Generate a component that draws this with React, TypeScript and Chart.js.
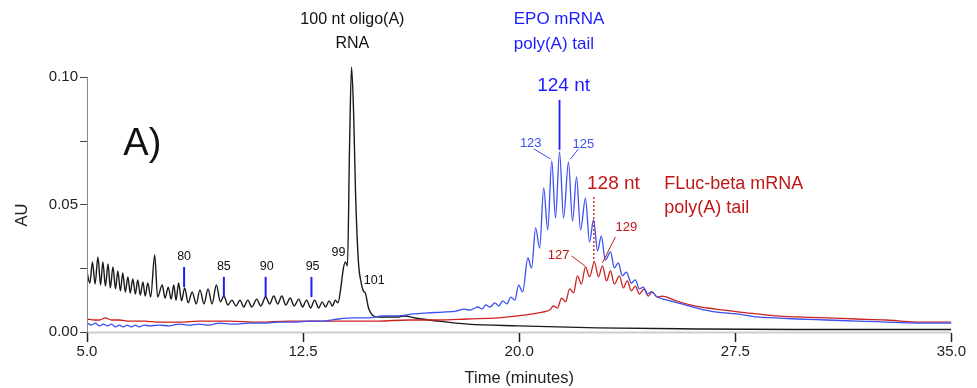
import React, { useEffect, useRef } from 'react';
import { Chart, registerables } from 'chart.js';

Chart.register(...registerables);

// ---------- data (time in minutes, absorbance in AU) ----------
const blackTime = [5.00,5.10,5.19,5.28,5.38,5.47,5.55,5.64,5.73,5.81,5.90,5.99,6.07,6.16,6.24,6.33,6.42,6.50,6.59,6.68,6.76,6.85,6.94,7.02,7.11,7.21,7.35,7.45,7.61,7.71,7.82,7.92,8.01,8.09,8.18,8.28,8.39,8.51,8.65,8.79,8.92,9.06,9.20,9.34,9.49,9.63,9.75,9.89,10.03,10.17,10.31,10.44,10.58,10.72,10.89,11.03,11.20,11.34,11.48,11.62,11.76,11.90,12.05,12.19,12.35,12.48,12.62,12.76,12.90,13.04,13.16,13.28,13.40,13.52,13.62,13.71,13.80,13.90,13.97,14.04,14.11,14.18,14.25,14.32,14.42,14.51,14.59,14.66,14.77,14.90,15.11,15.46,15.80,16.04,16.39,17.18,18.22,19.95,22.71,26.17,29.63,35.00];
const blackAU = [0.0235,0.0192,0.0275,0.0188,0.0294,0.0184,0.0275,0.0180,0.0267,0.0173,0.0255,0.0169,0.0239,0.0161,0.0231,0.0157,0.0216,0.0153,0.0208,0.0149,0.0204,0.0145,0.0196,0.0141,0.0192,0.0137,0.0302,0.0137,0.0184,0.0133,0.0176,0.0129,0.0184,0.0125,0.0192,0.0122,0.0173,0.0114,0.0157,0.0110,0.0165,0.0110,0.0169,0.0110,0.0184,0.0118,0.0141,0.0106,0.0125,0.0102,0.0125,0.0098,0.0125,0.0098,0.0129,0.0102,0.0137,0.0110,0.0141,0.0110,0.0141,0.0106,0.0133,0.0102,0.0129,0.0098,0.0125,0.0094,0.0125,0.0094,0.0118,0.0098,0.0122,0.0102,0.0125,0.0114,0.0165,0.0251,0.0275,0.0259,0.0714,0.1039,0.0871,0.0545,0.0275,0.0196,0.0161,0.0153,0.0094,0.0067,0.0059,0.0059,0.0059,0.0063,0.0055,0.0043,0.0031,0.0024,0.0016,0.0012,0.0010,0.0010];

const blueTime = [5.00,5.16,5.29,5.43,5.57,5.71,5.85,5.99,6.12,6.26,6.40,6.54,6.68,6.81,6.99,7.16,7.51,7.85,8.20,8.54,8.89,9.23,9.58,10.10,10.62,11.14,11.65,12.17,12.69,13.21,13.73,14.25,14.76,15.28,15.80,16.32,16.84,17.36,17.81,18.08,18.29,18.57,18.71,18.84,18.98,19.16,19.29,19.43,19.57,19.71,19.85,19.98,20.12,20.30,20.43,20.57,20.71,20.85,20.99,21.13,21.26,21.40,21.54,21.71,21.85,21.99,22.13,22.30,22.44,22.58,22.72,22.85,22.99,23.17,23.30,23.44,23.58,23.72,23.89,24.03,24.17,24.31,24.44,24.58,24.79,25.14,25.65,26.17,26.86,27.55,28.25,28.94,29.63,30.67,31.70,32.74,33.78,35.00];
const blueAU = [0.0035,0.0027,0.0035,0.0024,0.0031,0.0024,0.0031,0.0020,0.0027,0.0020,0.0027,0.0020,0.0027,0.0020,0.0027,0.0024,0.0027,0.0024,0.0031,0.0027,0.0031,0.0027,0.0035,0.0031,0.0035,0.0035,0.0039,0.0039,0.0043,0.0043,0.0051,0.0055,0.0055,0.0063,0.0063,0.0071,0.0075,0.0078,0.0082,0.0090,0.0086,0.0098,0.0090,0.0106,0.0098,0.0114,0.0102,0.0122,0.0110,0.0137,0.0125,0.0184,0.0157,0.0290,0.0251,0.0408,0.0329,0.0565,0.0400,0.0671,0.0447,0.0706,0.0447,0.0667,0.0435,0.0608,0.0400,0.0525,0.0353,0.0439,0.0318,0.0376,0.0282,0.0314,0.0251,0.0271,0.0220,0.0235,0.0192,0.0204,0.0169,0.0176,0.0149,0.0157,0.0137,0.0125,0.0110,0.0094,0.0078,0.0071,0.0059,0.0055,0.0051,0.0047,0.0043,0.0039,0.0035,0.0035];

const redTime = [5.00,5.26,5.43,5.64,5.85,6.12,6.47,6.99,7.51,8.20,8.89,9.93,10.96,12.00,13.04,14.07,15.11,16.15,17.18,18.22,19.26,19.95,20.47,20.81,21.06,21.19,21.33,21.47,21.61,21.75,21.89,22.02,22.16,22.30,22.44,22.61,22.75,22.89,23.03,23.17,23.30,23.48,23.61,23.75,23.89,24.03,24.17,24.34,24.48,24.62,24.79,24.96,25.38,25.93,26.52,27.11,27.66,28.25,28.94,29.63,30.67,31.70,32.74,33.78,35.00];
const redAU = [0.0051,0.0047,0.0047,0.0055,0.0047,0.0047,0.0043,0.0043,0.0039,0.0039,0.0043,0.0043,0.0039,0.0043,0.0043,0.0043,0.0043,0.0047,0.0047,0.0051,0.0055,0.0063,0.0071,0.0078,0.0086,0.0102,0.0094,0.0133,0.0118,0.0169,0.0153,0.0220,0.0188,0.0255,0.0216,0.0275,0.0216,0.0259,0.0200,0.0239,0.0188,0.0220,0.0173,0.0200,0.0161,0.0180,0.0149,0.0169,0.0141,0.0157,0.0137,0.0141,0.0125,0.0106,0.0094,0.0086,0.0078,0.0071,0.0063,0.0059,0.0055,0.0051,0.0047,0.0039,0.0039];

const xTickValues = [5, 12.5, 20, 27.5, 35];
const yTickValues = [0, 0.025, 0.05, 0.075, 0.1];
const yLabelledValues = [0, 0.05, 0.1];

// ---------- annotation content (anchored in data units) ----------
const BLUE_TXT = '#1c1cff';
const BLUE_LIGHT = '#3f4ff0';
const RED_TXT = '#c01818';
const FONT = '"Liberation Sans", Arial, sans-serif';

const textLabels = [
  { text: '100 nt oligo(A)', t: 14.21, v: 0.1224, color: '#111', size: 16, align: 'center' },
  { text: 'RNA', t: 14.21, v: 0.1129, color: '#111', size: 16, align: 'center' },
  { text: 'EPO mRNA', t: 19.81, v: 0.1224, color: BLUE_TXT, size: 17, align: 'left' },
  { text: 'poly(A) tail', t: 19.81, v: 0.1129, color: BLUE_TXT, size: 17, align: 'left' },
  { text: '124 nt', t: 21.54, v: 0.0965, color: BLUE_TXT, size: 19, align: 'center' },
  { text: '123', t: 20.40, v: 0.0741, color: BLUE_LIGHT, size: 13, align: 'center' },
  { text: '125', t: 22.23, v: 0.0737, color: BLUE_LIGHT, size: 13, align: 'center' },
  { text: '128 nt', t: 23.27, v: 0.0580, color: RED_TXT, size: 19, align: 'center' },
  { text: '127', t: 21.37, v: 0.0302, color: RED_TXT, size: 13, align: 'center' },
  { text: '129', t: 23.72, v: 0.0408, color: RED_TXT, size: 13, align: 'center' },
  { text: 'FLuc-beta mRNA', t: 25.03, v: 0.0580, color: RED_TXT, size: 18, align: 'left' },
  { text: 'poly(A) tail', t: 25.03, v: 0.0486, color: RED_TXT, size: 18, align: 'left' },
  { text: 'A)', t: 6.92, v: 0.0733, color: '#111', size: 38, align: 'center' },
  { text: '80', t: 8.37, v: 0.0294, color: '#111', size: 12.5, align: 'center' },
  { text: '85', t: 9.75, v: 0.0255, color: '#111', size: 12.5, align: 'center' },
  { text: '90', t: 11.24, v: 0.0255, color: '#111', size: 12.5, align: 'center' },
  { text: '95', t: 12.83, v: 0.0255, color: '#111', size: 12.5, align: 'center' },
  { text: '99', t: 13.73, v: 0.0310, color: '#111', size: 12.5, align: 'center' },
  { text: '101', t: 14.97, v: 0.0200, color: '#111', size: 12.5, align: 'center' },
];

const markerLines = [
  { t1: 21.40, v1: 0.0910, t2: 21.40, v2: 0.0714, color: BLUE_TXT, width: 1.8, dash: [] },
  { t1: 20.50, v1: 0.0718, t2: 21.09, v2: 0.0678, color: BLUE_LIGHT, width: 1, dash: [] },
  { t1: 21.78, v1: 0.0678, t2: 22.06, v2: 0.0718, color: BLUE_LIGHT, width: 1, dash: [] },
  { t1: 22.59, v1: 0.0529, t2: 22.59, v2: 0.0275, color: RED_TXT, width: 1.3, dash: [2, 2] },
  { t1: 21.82, v1: 0.0298, t2: 22.28, v2: 0.0259, color: RED_TXT, width: 1, dash: [] },
  { t1: 23.34, v1: 0.0373, t2: 22.89, v2: 0.0271, color: RED_TXT, width: 1, dash: [] },
  { t1: 8.37, v1: 0.0255, t2: 8.37, v2: 0.0176, color: '#1c1cff', width: 2, dash: [] },
  { t1: 9.75, v1: 0.0216, t2: 9.75, v2: 0.0137, color: '#1c1cff', width: 2, dash: [] },
  { t1: 11.20, v1: 0.0216, t2: 11.20, v2: 0.0137, color: '#1c1cff', width: 2, dash: [] },
  { t1: 12.79, v1: 0.0216, t2: 12.79, v2: 0.0137, color: '#1c1cff', width: 2, dash: [] },
];

const toPoints = (xs: number[], ys: number[]) => xs.map((x, i) => ({ x, y: ys[i] }));

const annotationPlugin = {
  id: 'hplcAnnotations',
  afterDraw(chart: any) {
    const { ctx, chartArea } = chart;
    const xs = chart.scales.x;
    const ys = chart.scales.y;
    const y0 = ys.getPixelForValue(0);
    ctx.save();
    // x axis baseline
    ctx.strokeStyle = '#cdcdcd';
    ctx.lineWidth = 2;
    ctx.beginPath();
    ctx.moveTo(chartArea.left, y0 + 0.5);
    ctx.lineTo(chartArea.right, y0 + 0.5);
    ctx.stroke();
    // y axis line
    ctx.strokeStyle = '#8a8a8a';
    ctx.lineWidth = 1;
    ctx.beginPath();
    ctx.moveTo(chartArea.left + 0.5, ys.getPixelForValue(0.1));
    ctx.lineTo(chartArea.left + 0.5, y0 + 9);
    ctx.stroke();
    // y ticks
    ctx.strokeStyle = '#444';
    yTickValues.forEach((v) => {
      const py = Math.round(ys.getPixelForValue(v)) + 0.5;
      ctx.beginPath();
      ctx.moveTo(chartArea.left - 7, py);
      ctx.lineTo(chartArea.left, py);
      ctx.stroke();
    });
    // x ticks
    ctx.strokeStyle = '#222';
    ctx.lineWidth = 1.5;
    xTickValues.forEach((t) => {
      const px = Math.round(xs.getPixelForValue(t)) + 0.5;
      ctx.beginPath();
      ctx.moveTo(px, y0 + 1);
      ctx.lineTo(px, y0 + 10);
      ctx.stroke();
    });
    // marker lines
    markerLines.forEach((m) => {
      ctx.strokeStyle = m.color;
      ctx.lineWidth = m.width;
      ctx.setLineDash(m.dash);
      ctx.beginPath();
      ctx.moveTo(xs.getPixelForValue(m.t1), ys.getPixelForValue(m.v1));
      ctx.lineTo(xs.getPixelForValue(m.t2), ys.getPixelForValue(m.v2));
      ctx.stroke();
    });
    ctx.setLineDash([]);
    // text labels
    ctx.textBaseline = 'middle';
    textLabels.forEach((l) => {
      ctx.font = `${l.size}px ${FONT}`;
      ctx.fillStyle = l.color;
      ctx.textAlign = l.align;
      ctx.fillText(l.text, xs.getPixelForValue(l.t), ys.getPixelForValue(l.v));
    });
    // axis titles
    ctx.fillStyle = '#222';
    ctx.font = `16.5px ${FONT}`;
    ctx.textAlign = 'center';
    ctx.fillText('Time (minutes)', (chartArea.left + chartArea.right) / 2, 378);
    ctx.translate(22, 215);
    ctx.rotate(-Math.PI / 2);
    ctx.fillText('AU', 0, 0);
    ctx.restore();
  },
};

export default function App() {
  const ref = useRef<HTMLCanvasElement>(null);
  useEffect(() => {
    document.body.style.margin = '0';
    const canvas = ref.current;
    if (!canvas) return;
    const line = (label: string, pts: any[], color: string, width: number) => ({
      label,
      data: pts,
      borderColor: color,
      borderWidth: width,
      pointRadius: 0,
      fill: false,
      cubicInterpolationMode: 'monotone',
    });
    const chart = new Chart(canvas, {
      type: 'line',
      data: {
        datasets: [
          line('EPO mRNA', toPoints(blueTime, blueAU), '#3b4ff2', 1.3),
          line('FLuc-beta mRNA', toPoints(redTime, redAU), '#cc2222', 1.3),
          line('100 nt oligo(A) RNA', toPoints(blackTime, blackAU), '#1a1a1a', 1.4),
        ],
      },
      options: {
        animation: false,
        responsive: false,
        devicePixelRatio: 1,
        layout: { padding: { left: 0, right: 22, top: 59, bottom: 0 } },
        plugins: { legend: { display: false }, tooltip: { enabled: false }, title: { display: false } },
        scales: {
          x: {
            type: 'linear',
            min: 5,
            max: 35,
            afterBuildTicks: (s: any) => { s.ticks = xTickValues.map((v) => ({ value: v })); },
            afterFit: (s: any) => { s.height = 56; },
            grid: { display: false, drawTicks: false },
            border: { display: false },
            ticks: {
              padding: 11,
              color: '#222',
              font: { family: FONT, size: 15 },
              maxRotation: 0,
              autoSkip: false,
              callback: (v: any) => Number(v).toFixed(1),
            },
          },
          y: {
            type: 'linear',
            min: 0,
            max: 0.107,
            afterBuildTicks: (s: any) => { s.ticks = yTickValues.map((v) => ({ value: v })); },
            afterFit: (s: any) => { s.width = 87; },
            grid: { display: false, drawTicks: false },
            border: { display: false },
            ticks: {
              padding: 9,
              color: '#222',
              font: { family: FONT, size: 15 },
              autoSkip: false,
              callback: (v: any) => (yLabelledValues.some((l) => Math.abs(l - v) < 1e-9) ? Number(v).toFixed(2) : ''),
            },
          },
        },
      },
      plugins: [annotationPlugin],
    } as any);
    return () => chart.destroy();
  }, []);
  return <canvas ref={ref} width={977} height={388} style={{ display: 'block', width: 977, height: 388 }} />;
}
